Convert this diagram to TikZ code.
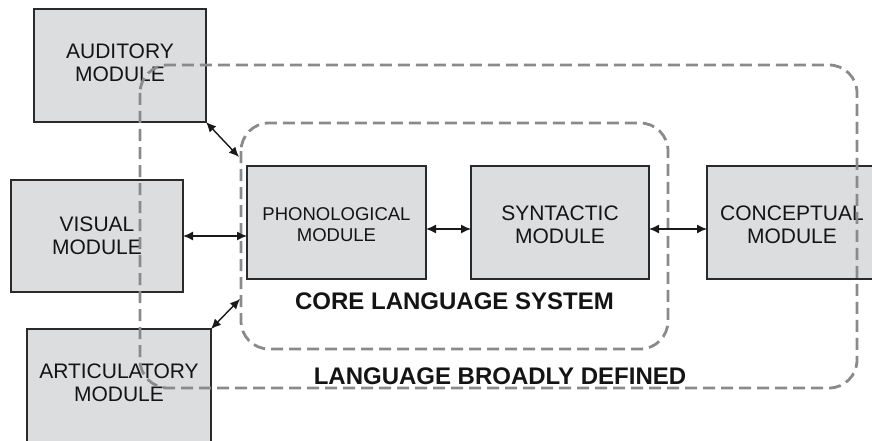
\documentclass[tikz,border=0pt]{standalone}
\usepackage{fontspec}
\setmainfont{Liberation Sans}
\usetikzlibrary{arrows.meta}
\definecolor{boxfill}{HTML}{DCDDDF}
\definecolor{boxline}{HTML}{2A2A2A}
\definecolor{dashgray}{HTML}{8A8A8A}
\tikzset{
  modbox/.style={draw=boxline, line width=2pt, fill=boxfill},
  modtext/.style={align=center, font=\fontsize{21}{23}\selectfont, text=black!92, inner sep=0pt},
  smalltext/.style={align=center, font=\fontsize{18.5}{21}\selectfont, text=black!92, inner sep=0pt},
  region/.style={draw=dashgray, line width=2.8pt, dash pattern=on 12pt off 6pt, rounded corners=28pt},
  biarrow/.style={{Latex[length=10pt,width=9pt]}-{Latex[length=10pt,width=9pt]}, line width=1.4pt, black!90},
  bigtitle/.style={font=\bfseries\fontsize{24}{26}\selectfont, text=black!92, inner sep=0pt}
}
\begin{document}
\begin{tikzpicture}[x=1pt,y=-1pt]
\useasboundingbox (0,0) rectangle (872,441);
\clip (0,0) rectangle (872,441);
% module boxes
\draw[modbox] (34,9) rectangle (206,122);
\node[modtext] (aud) at (120,63) {AUDITORY\\MODULE};
\coordinate (audc) at (206,122);
\draw[modbox] (11,180) rectangle (183,292);
\node[modtext] (vis) at (97,236) {VISUAL\\MODULE};
\coordinate (visr) at (183,236);
\draw[modbox] (27,329) rectangle (211,446);
\node[modtext] (art) at (119,383) {ARTICULATORY\\MODULE};
\coordinate (artc) at (211,329);
\draw[modbox] (247,166) rectangle (426,279);
\node[smalltext] (pho) at (336.5,224.5) {PHONOLOGICAL\\MODULE};
\coordinate (phol) at (247,236);
\coordinate (phor) at (426,229);
\draw[modbox] (471,166) rectangle (649,279);
\node[modtext] (syn) at (560,224.5) {SYNTACTIC\\MODULE};
\coordinate (synl) at (471,229);
\coordinate (synr) at (649,229);
\draw[modbox] (707,166) rectangle (880,279);
\node[modtext] (con) at (792,224.5) {CONCEPTUAL\\MODULE};
\coordinate (conl) at (707,229);
% dashed regions
\draw[region] (241,123) rectangle (668,349);
\draw[region] (140,65) rectangle (857,388);
% labels
\node[bigtitle] (core) at (454.5,301) {CORE LANGUAGE SYSTEM};
\node[bigtitle] (broad) at (500,376.5) {LANGUAGE BROADLY DEFINED};
% arrow endpoints on core region
\coordinate (coreA) at (239,157);
\coordinate (coreB) at (240,299);
% arrows
\draw[biarrow] (audc) -- (coreA);
\draw[biarrow] (visr) -- (phol);
\draw[biarrow] (artc) -- (coreB);
\draw[biarrow] (phor) -- (synl);
\draw[biarrow] (synr) -- (conl);
\end{tikzpicture}
\end{document}
